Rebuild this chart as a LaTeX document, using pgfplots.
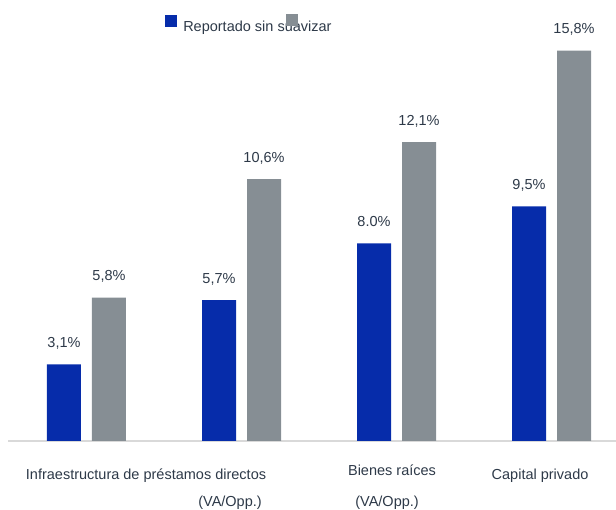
\documentclass[border=0pt]{standalone}
\usepackage{fontspec}
\setmainfont{Liberation Sans}
\usepackage{pgfplots}
\pgfplotsset{compat=1.18}
\definecolor{cblue}{RGB}{6,44,170}
\definecolor{cgray}{RGB}{134,142,148}
\definecolor{ctext}{RGB}{45,57,72}
\definecolor{cline}{RGB}{217,217,217}
\begin{document}
\begin{tikzpicture}
\begin{axis}[
  scale only axis, width=616pt, height=510pt,
  xmin=-0.558, xmax=3.416, ymin=-2.794, ymax=17.854,
  axis lines=none, clip=false,
  point meta=explicit symbolic,
  nodes near coords,
  every node near coord/.append style={anchor=base, yshift=17pt, font=\fontsize{14.5}{17}\selectfont, text=ctext, inner sep=0pt},
]
\draw[cline, line width=1.8pt] (axis cs:-0.506,0) -- (axis cs:3.416,0);
\addplot[ybar, bar width=34pt, bar shift=-22.5pt, fill=cblue, draw=none,
  every node near coord/.append style={xshift=-22.5pt}] coordinates {
  (0,3.1) [3,1\%]
  (1,5.7) [5,7\%]
  (2,8.0) [8.0\%]
  (3,9.5) [9,5\%]
};
\addplot[ybar, bar width=34pt, bar shift=22.5pt, fill=cgray, draw=none,
  every node near coord/.append style={xshift=22.5pt}] coordinates {
  (0,5.8) [5,8\%]
  (1,10.6) [10,6\%]
  (2,12.1) [12,1\%]
  (3,15.8) [15,8\%]
};
% category labels
\begin{scope}[every node/.style={font=\fontsize{14.5}{17}\selectfont, text=ctext, inner sep=0pt}]
\node[anchor=base] at (axis cs:0.384,-1.579) {Infraestructura de préstamos directos};
\node[anchor=base] at (axis cs:0.926,-2.672) {(VA/Opp.)};
\node[anchor=base] at (axis cs:1.939,-2.672) {(VA/Opp.)};
\node[anchor=base] at (axis cs:1.971,-1.417) {Bienes raíces};
\node[anchor=base] at (axis cs:2.926,-1.579) {Capital privado};
% legend
\node[anchor=base west] at (axis cs:0.623,16.559) {Reportado sin suavizar};
\node[fill=cblue, minimum size=12pt] at (axis cs:0.545,17.004) {};
\node[fill=cgray, minimum size=12pt] at (axis cs:1.323,17.045) {};
\end{scope}
\end{axis}
\pgfresetboundingbox
\useasboundingbox (current axis.south west) rectangle (current axis.north east);
\end{tikzpicture}
\end{document}
